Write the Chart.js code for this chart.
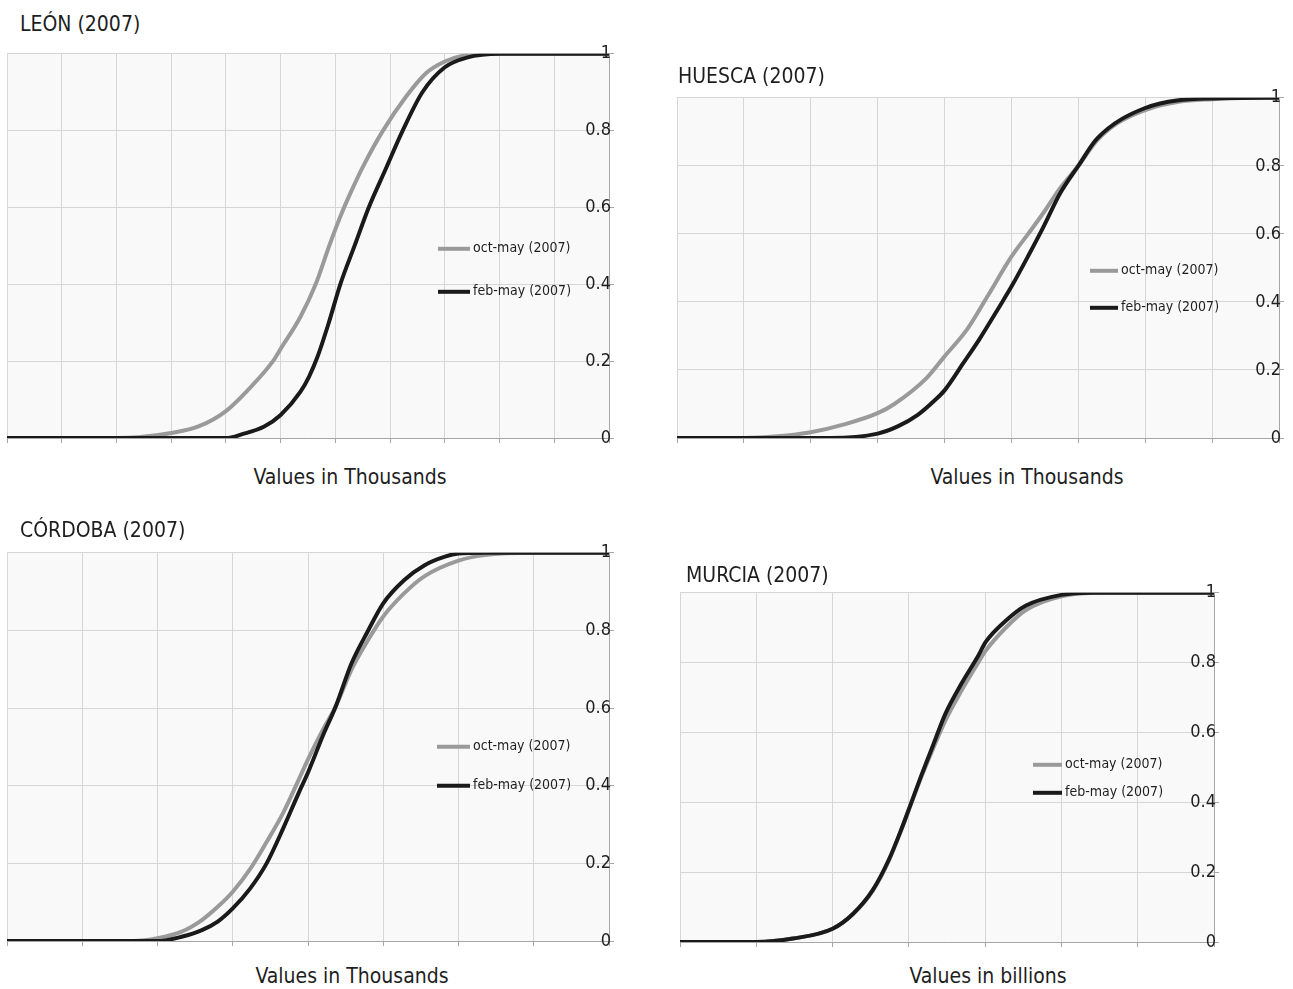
<!DOCTYPE html>
<html>
<head>
<meta charset="utf-8">
<title>CDF 2007</title>
<script src="https://cdn.jsdelivr.net/npm/chart.js@4.4.1/dist/chart.umd.min.js"></script>
<style>
    body {
        margin: 0;
        width: 1293px;
        height: 989px;
        overflow: hidden;
        position: relative;
        background: #ffffff;
        font-family: 'DejaVu Sans Condensed', 'DejaVu Sans', sans-serif;
        color: #1e1e1e;
    }
    .panel-title {
        position: absolute;
        font-size: 21px;
        line-height: 21px;
        white-space: nowrap;
    }
    .x-title {
        position: absolute;
        font-size: 21px;
        line-height: 21px;
        white-space: nowrap;
        transform: translateX(-50%);
    }
    canvas {
        position: absolute;
    }
</style>
</head>
<body>
<script>
// Data. The x axis has no labels, so x is counted
// in grid steps from the left edge of each plot.

const seriesNames = ['oct-may (2007)', 'feb-may (2007)'];
const panelTitles = ['LEÓN (2007)', 'HUESCA (2007)', 'CÓRDOBA (2007)', 'MURCIA (2007)'];
const xTitles = ['Values in Thousands', 'Values in Thousands', 'Values in Thousands', 'Values in billions'];
const gridSteps = [11, 9, 8, 7];
const yTicks = [0, 0.2, 0.4, 0.6, 0.8, 1];
const yTickLabels = ['0', '0.2', '0.4', '0.6', '0.8', '1'];

// León
const leonOctX = [0, 1, 2, 2.4, 3.0, 3.5, 4.0, 4.47, 4.86, 5.0, 5.36, 5.64, 5.9, 6.13, 6.3, 6.5, 6.87, 7.3, 7.66, 8.0, 8.33, 8.77, 9.5, 11];
const leonOctY = [0, 0, 0, 0.002, 0.013, 0.03, 0.07, 0.135, 0.2, 0.232, 0.315, 0.4, 0.505, 0.59, 0.645, 0.705, 0.8, 0.89, 0.95, 0.98, 0.995, 1, 1, 1];
const leonFebX = [0, 2, 4.0, 4.3, 4.7, 5.0, 5.36, 5.52, 5.67, 5.88, 6.09, 6.35, 6.61, 6.92, 7.23, 7.59, 8.0, 8.4, 9.0, 11];
const leonFebY = [0, 0, 0, 0.01, 0.03, 0.06, 0.12, 0.16, 0.21, 0.3, 0.4, 0.5, 0.6, 0.7, 0.8, 0.9, 0.965, 0.99, 1, 1];

// Huesca
const huescaOctX = [0, 1, 1.5, 2.0, 2.5, 3.0, 3.25, 3.73, 4.0, 4.34, 4.64, 5.0, 5.25, 5.49, 5.73, 6.0, 6.28, 6.58, 7.0, 7.5, 8.0, 8.5, 9];
const huescaOctY = [0, 0, 0.005, 0.017, 0.04, 0.073, 0.10, 0.176, 0.24, 0.32, 0.416, 0.533, 0.60, 0.665, 0.735, 0.80, 0.875, 0.925, 0.964, 0.988, 0.996, 1, 1];
const huescaFebX = [0, 2.3, 3.0, 3.3, 3.6, 3.85, 4.0, 4.28, 4.52, 4.82, 5.0, 5.25, 5.49, 5.73, 6.0, 6.28, 7.0, 8.0, 9];
const huescaFebY = [0, 0, 0.013, 0.034, 0.068, 0.11, 0.14, 0.22, 0.29, 0.386, 0.445, 0.535, 0.625, 0.72, 0.80, 0.88, 0.97, 0.998, 1];

// Córdoba
const cordobaOctX = [0, 1.68, 2.0, 2.32, 2.59, 2.8, 3.0, 3.23, 3.45, 3.67, 3.88, 4.0, 4.2, 4.37, 4.58, 4.8, 5.0, 5.28, 5.55, 6.0, 6.35, 7.0, 8];
const cordobaOctY = [0, 0, 0.007, 0.024, 0.054, 0.088, 0.127, 0.185, 0.255, 0.33, 0.417, 0.468, 0.545, 0.605, 0.70, 0.776, 0.836, 0.896, 0.94, 0.98, 0.994, 1, 1];
const cordobaFebX = [0, 2.0, 2.32, 2.59, 2.8, 3.0, 3.23, 3.45, 3.67, 3.88, 4.0, 4.2, 4.37, 4.58, 4.8, 5.0, 5.28, 5.55, 5.82, 6.0, 6.35, 8];
const cordobaFebY = [0, 0, 0.011, 0.028, 0.05, 0.084, 0.135, 0.20, 0.29, 0.383, 0.434, 0.53, 0.605, 0.716, 0.80, 0.87, 0.93, 0.968, 0.99, 0.998, 1, 1];

// Murcia
const murciaOctX = [0, 1.0, 1.48, 2.0, 2.27, 2.53, 2.74, 2.9, 3.02, 3.16, 3.32, 3.48, 3.69, 3.9, 4.01, 4.27, 4.53, 5.0, 5.53, 7];
const murciaOctY = [0, 0, 0.01, 0.038, 0.081, 0.148, 0.234, 0.32, 0.39, 0.47, 0.555, 0.635, 0.72, 0.797, 0.835, 0.90, 0.95, 0.99, 1, 1];
const murciaFebX = [0, 1.0, 1.48, 2.0, 2.27, 2.53, 2.74, 2.9, 3.02, 3.16, 3.32, 3.48, 3.69, 3.9, 4.01, 4.27, 4.53, 5.0, 5.4, 7];
const murciaFebY = [0, 0, 0.01, 0.038, 0.081, 0.15, 0.237, 0.322, 0.392, 0.475, 0.565, 0.654, 0.74, 0.816, 0.86, 0.92, 0.963, 0.994, 1, 1];

// Colours and fonts
const fontFamily = "'DejaVu Sans Condensed', 'DejaVu Sans', sans-serif";
const textColor = '#1e1e1e';
const grayLine = '#9a9a9a';
const blackLine = '#1a1a1a';
const gridColor = '#d6d6d6';
const axisColor = '#a6a6a6';
const plotColor = '#f9f9f9';

// Where each plot area sits on the page (left, top, right, bottom)
const panels = [
    { area: [7, 53, 613, 438], oct: [leonOctX, leonOctY], feb: [leonFebX, leonFebY],
      title: [20, 14], xTitle: [350, 467], legend: { x: 431, w: 32, rows: [195, 238] } },
    { area: [677, 97, 1283, 438], oct: [huescaOctX, huescaOctY], feb: [huescaFebX, huescaFebY],
      title: [678, 66], xTitle: [1027, 467], legend: { x: 413, w: 28, rows: [173, 210] } },
    { area: [7, 552, 613, 941], oct: [cordobaOctX, cordobaOctY], feb: [cordobaFebX, cordobaFebY],
      title: [20, 520], xTitle: [352, 966], legend: { x: 430, w: 33, rows: [194, 233] } },
    { area: [680, 592, 1218, 942], oct: [murciaOctX, murciaOctY], feb: [murciaFebX, murciaFebY],
      title: [686, 565], xTitle: [988, 966], legend: { x: 353, w: 29, rows: [172, 200] } }
];

const pad = { left: 7, top: 12, right: 5, bottom: 10 };
const tickLen = 5;

// Light grey fill behind the plot area
const plotBg = {
    id: 'plotBg',
    beforeDraw(chart) {
        const { ctx, chartArea: a } = chart;
        ctx.save();
        ctx.fillStyle = plotColor;
        ctx.fillRect(a.left, a.top, a.width, a.height);
        ctx.restore();
    }
};

// Legend drawn inside the plot, right side
const insideLegend = {
    id: 'insideLegend',
    afterDatasetsDraw(chart, args, opts) {
        const { ctx, chartArea: a } = chart;
        ctx.save();
        ctx.font = '14px ' + fontFamily;
        ctx.textBaseline = 'middle';
        ctx.textAlign = 'left';
        ctx.fillStyle = textColor;
        chart.data.datasets.forEach((ds, i) => {
            const y = a.top + opts.rows[i];
            const x0 = a.left + opts.x;
            ctx.strokeStyle = ds.borderColor;
            ctx.lineWidth = 4;
            ctx.beginPath();
            ctx.moveTo(x0, y);
            ctx.lineTo(x0 + opts.w, y);
            ctx.stroke();
            ctx.fillText(ds.label, x0 + opts.w + 3, y);
        });
        ctx.restore();
    }
};

function toPoints(xs, ys) {
    return xs.map((x, i) => ({ x: x, y: ys[i] }));
}

function addText(cls, text, x, y) {
    const el = document.createElement('div');
    el.className = cls;
    el.textContent = text;
    el.style.left = x + 'px';
    el.style.top = y + 'px';
    document.body.appendChild(el);
}

function makePanel(p, i) {
    const [L, T, R, B] = p.area;
    const canvas = document.createElement('canvas');
    canvas.width = (R - L) + pad.left + tickLen + pad.right;
    canvas.height = (B - T) + pad.top + tickLen + pad.bottom;
    canvas.style.left = (L - pad.left) + 'px';
    canvas.style.top = (T - pad.top) + 'px';
    document.body.appendChild(canvas);

    addText('panel-title', panelTitles[i], p.title[0], p.title[1]);
    addText('x-title', xTitles[i], p.xTitle[0], p.xTitle[1]);

    new Chart(canvas.getContext('2d'), {
        type: 'line',
        data: {
            datasets: [{
                label: seriesNames[0],
                data: toPoints(p.oct[0], p.oct[1]),
                borderColor: grayLine,
                borderWidth: 4,
                pointRadius: 0,
                cubicInterpolationMode: 'monotone',
                order: 1
            }, {
                label: seriesNames[1],
                data: toPoints(p.feb[0], p.feb[1]),
                borderColor: blackLine,
                borderWidth: 4,
                pointRadius: 0,
                cubicInterpolationMode: 'monotone',
                order: 0
            }]
        },
        options: {
            responsive: false,
            animation: false,
            events: [],
            layout: { padding: pad },
            plugins: {
                legend: { display: false },
                tooltip: { enabled: false },
                insideLegend: p.legend
            },
            scales: {
                x: {
                    type: 'linear',
                    min: 0,
                    max: gridSteps[i],
                    ticks: { display: false, stepSize: 1 },
                    grid: { color: gridColor, tickColor: axisColor, tickLength: tickLen },
                    border: { color: axisColor }
                },
                y: {
                    position: 'right',
                    min: 0,
                    max: 1,
                    afterBuildTicks: (axis) => {
                        axis.ticks = yTicks.map(v => ({ value: v }));
                    },
                    ticks: {
                        mirror: true,
                        padding: 2,
                        color: textColor,
                        font: { family: fontFamily, size: 18 },
                        callback: (value, index) => yTickLabels[index]
                    },
                    grid: { color: gridColor, tickColor: axisColor, tickLength: tickLen },
                    border: { color: axisColor }
                }
            }
        },
        plugins: [plotBg, insideLegend]
    });
}

panels.forEach(makePanel);
</script>
</body>
</html>
